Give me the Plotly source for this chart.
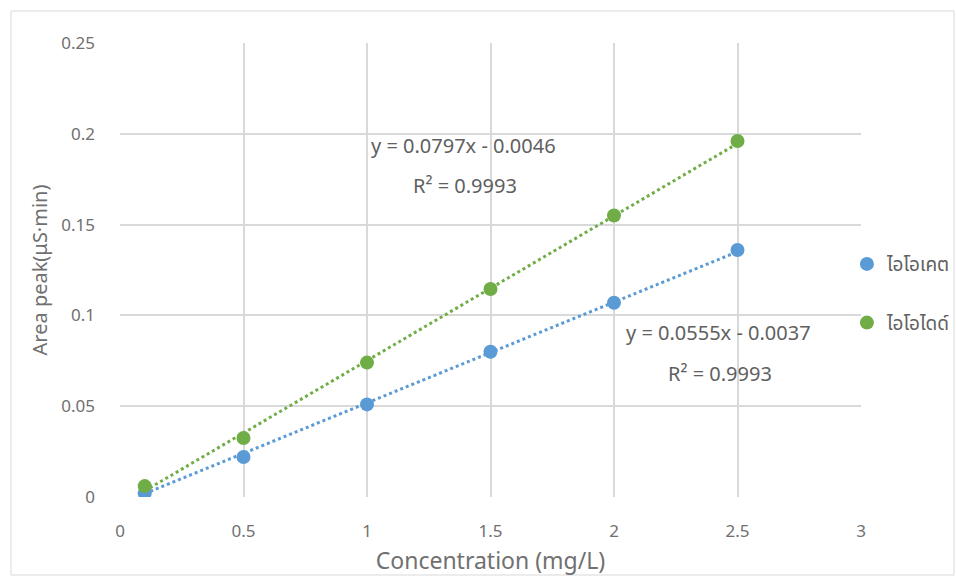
import plotly.graph_objects as go

conc = [0.1, 0.5, 1.0, 1.5, 2.0, 2.5]
iodate = [0.002, 0.022, 0.051, 0.080, 0.107, 0.136]
iodide = [0.006, 0.0325, 0.074, 0.1145, 0.155, 0.196]
names = ["ไอโอเคต", "ไอโอไดด์"]
# trendline coefficients as printed on the chart (slope, intercept)
fit_iodate = (0.0555, -0.0037)
fit_iodide = (0.0797, -0.0046)
eq_iodate = ["y = 0.0555x - 0.0037", "R² = 0.9993"]
eq_iodide = ["y = 0.0797x - 0.0046", "R² = 0.9993"]
x_ticks = [0, 0.5, 1, 1.5, 2, 2.5, 3]
y_ticks = [0, 0.05, 0.1, 0.15, 0.2, 0.25]

blue = "#5B9BD5"
green = "#70AD47"
grey = "#606060"
tgrey = "#707070"
font_fam = "Noto Sans Thai, Noto Sans, Open Sans, sans-serif"

fig = go.Figure()
xs = [conc[0], conc[-1]]
for fit, col in [(fit_iodate, blue), (fit_iodide, green)]:
    fig.add_trace(go.Scatter(x=xs, y=[fit[0] * v + fit[1] for v in xs], mode="lines",
                             line=dict(color=col, width=3, dash="dot"),
                             showlegend=False, hoverinfo="skip"))
fig.add_trace(go.Scatter(x=conc, y=iodate, mode="markers", name=names[0],
                         marker=dict(color=blue, size=14), legendgroup="a"))
fig.add_trace(go.Scatter(x=conc, y=iodide, mode="markers", name=names[1],
                         marker=dict(color=green, size=14), legendgroup="b"))

anns = [
    dict(x=463, y=147, text=eq_iodide[0]), dict(x=465, y=187, text=eq_iodide[1]),
    dict(x=718, y=334, text=eq_iodate[0]), dict(x=720, y=375, text=eq_iodate[1]),
]
L, R, T, B = 120, 861, 43, 497
for a in anns:
    fig.add_annotation(x=(a["x"] - L) / (R - L), y=(B - a["y"]) / (B - T),
                       xref="paper", yref="paper", text=a["text"], showarrow=False,
                       xanchor="center", yanchor="middle",
                       font=dict(size=20, color=grey, family=font_fam))

fig.add_shape(type="rect", xref="paper", yref="paper",
              x0=(11 - L) / (R - L), x1=(954 - L) / (R - L),
              y0=(B - 575) / (B - T), y1=(B - 11) / (B - T),
              line=dict(color="#d9d9d9", width=1), fillcolor="rgba(0,0,0,0)", layer="below")

fig.update_layout(
    width=956, height=579,
    margin=dict(l=L, r=956 - R, t=T, b=579 - B, autoexpand=False),
    paper_bgcolor="white", plot_bgcolor="white",
    font=dict(family=font_fam, color=grey),
    legend=dict(x=0.981, y=0.555, xanchor="left", yanchor="top",
                font=dict(size=19, color=grey), tracegroupgap=31,
                itemwidth=30, bgcolor="rgba(0,0,0,0)"),
    xaxis=dict(range=[0, 3], tickvals=x_ticks, ticktext=[str(v) for v in x_ticks],
               showgrid=True, gridcolor="#d9d9d9", gridwidth=1.5, zeroline=False,
               showline=False, tickfont=dict(size=17, color=tgrey), ticklabelstandoff=22,
               automargin=False,
               title=dict(text="Concentration (mg/L)", font=dict(size=23, color=tgrey), standoff=2)),
    yaxis=dict(range=[0, 0.25], tickvals=y_ticks, ticktext=["0", "0.05", "0.1", "0.15", "0.2", "0.25"],
               showgrid=True, gridcolor="#d9d9d9", gridwidth=1.5, zeroline=False,
               showline=False, tickfont=dict(size=17, color=tgrey), ticklabelstandoff=24,
               automargin=False,
               title=dict(text="Area peak(μS·min)", font=dict(size=20, color=tgrey), standoff=8)),
)

fig.write_html("out.html", config={"displayModeBar": False},
               post_script="document.body.style.margin='0';document.body.style.overflow='hidden';")
